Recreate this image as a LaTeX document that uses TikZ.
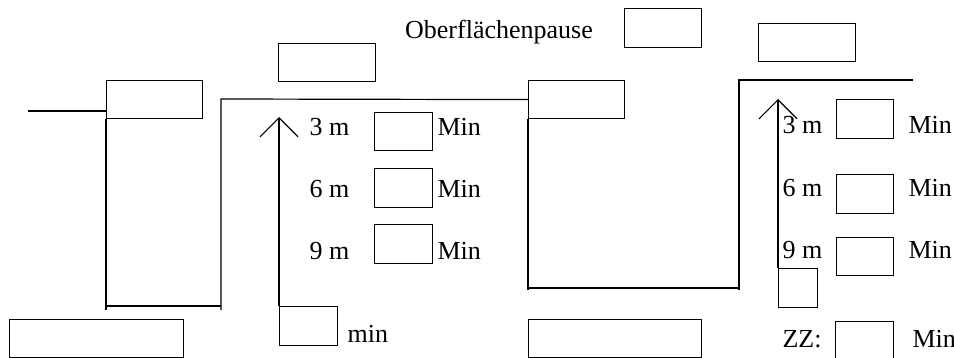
\documentclass[tikz,border=0pt]{standalone}
\usepackage{fontspec}
\setmainfont{Liberation Serif}
\usetikzlibrary{arrows.meta}

\begin{document}
\begin{tikzpicture}[x=0.5pt,y=-0.5pt,line width=0.6pt,
		font=\fontsize{13pt}{15pt}\selectfont,
		feld/.style={draw,anchor=north west,minimum width=29pt,minimum height=19.5pt},
		breit/.style={feld,minimum width=48pt,minimum height=19pt},
		lang/.style={feld,minimum width=87pt,minimum height=19pt},
		pfeil/.style={-{Straight Barb[length=9.5pt,width=19pt]}}]
		\tikzstyle{every node}+=[inner sep=0pt]
		\clip (0,0) rectangle (954,358);
		% Felder oben
		\node [breit] (boxA) at (106,80) {};
		\node [breit,minimum width=48.5pt] (boxB) at (278,43) {};
		\node [feld,minimum width=38.5pt] (boxC) at (624,8) {};
		\node [breit] (boxD) at (528,80) {};
		\node [breit,minimum width=48.5pt] (boxE) at (758,23) {};
		\node (pause) at (499,32) {Oberfl\"achenpause};
		% Felder unten
		\node [lang] (boxG) at (9,319) {};
		\node [lang,minimum width=86.5pt] (boxF) at (528,319) {};
		% erster Tauchgang
		\coordinate (start) at (28,111);
		\coordinate (grund1l) at (106,306);
		\coordinate (grund1r) at (221,306);
		\coordinate (auf1) at (221,99);
		\draw (start) -- (boxA.west |- start);
		\draw (boxA.south west) -- ([yshift=-2pt]grund1l);
		\draw (grund1l) -- (grund1r);
		\draw ([yshift=-2pt]grund1r) -- (auf1) -- (boxD.west);
		% Stopps links
		\node [feld,minimum height=19pt] (stop3l) at (374,112) {};
		\node [feld] (stop6l) at (374,168) {};
		\node [feld] (stop9l) at (374,224) {};
		\node [anchor=west] (m3l) at (309,127) {3 m};
		\node [anchor=west] (m6l) at (309,189) {6 m};
		\node [anchor=west] (m9l) at (309,251) {9 m};
		\node [anchor=west] (min3l) at (437,127) {Min};
		\node [anchor=west] (min6l) at (437,189) {Min};
		\node [anchor=west] (min9l) at (437,251) {Min};
		\node [feld] (minbox) at (279,306) {};
		\node [anchor=base west] (minlabel) at (347,343) {min};
		\coordinate (pfeil1) at (279,117);
		\draw [pfeil] (minbox.north west) -- (pfeil1);
		% zweiter Tauchgang
		\coordinate (grund2l) at (528,288);
		\coordinate (grund2r) at (739,288);
		\coordinate (auf2) at (739,80);
		\coordinate (ende) at (913,80);
		\draw (boxD.south west) -- ([yshift=-1pt]grund2l);
		\draw (grund2l) -- (grund2r);
		\draw ([yshift=-1pt]grund2r) -- (auf2) -- (ende);
		% Stopps rechts
		\node [feld,minimum width=28.5pt] (stop3r) at (836,99) {};
		\node [feld,minimum width=28.5pt] (stop6r) at (836,174) {};
		\node [feld,minimum width=28.5pt,minimum height=19pt] (stop9r) at (836,237) {};
		\node [anchor=west] (m3r) at (782,125) {3 m};
		\node [anchor=west] (m6r) at (782,188) {6 m};
		\node [anchor=west] (m9r) at (782,250) {9 m};
		\node [anchor=west] (min3r) at (908,125) {Min};
		\node [anchor=west] (min6r) at (908,188) {Min};
		\node [anchor=west] (min9r) at (908,250) {Min};
		\node [feld,minimum width=19.5pt] (zwbox) at (778,268) {};
		\coordinate (pfeil2) at (778,99);
		\draw [pfeil] (zwbox.north west) -- (pfeil2);
		\node [feld] (zzbox) at (835,321) {};
		\node [anchor=west] (zz) at (782,339) {ZZ:};
		\node [anchor=west] (minzz) at (912,339) {Min};
	\end{tikzpicture}
\end{document}
